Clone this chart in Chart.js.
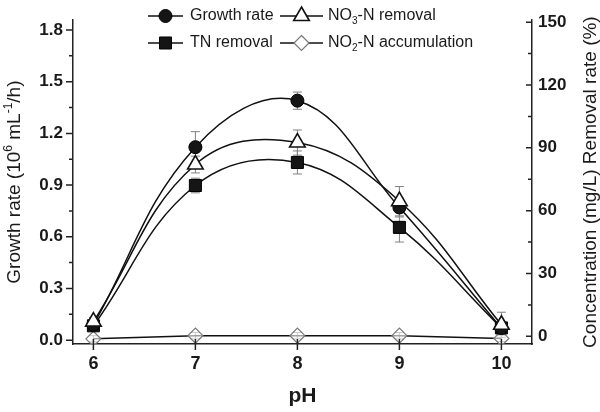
<!DOCTYPE html>
<html>
<head>
<meta charset="utf-8">
<script src="https://cdn.jsdelivr.net/npm/chart.js"></script>
<style>
  html, body { margin: 0; padding: 0; background: #fff; }
  #wrap { width: 600px; height: 412px; position: relative; }
</style>
</head>
<body>
<div id="wrap"><canvas id="chart" width="600" height="412"></canvas></div>
<script>
// ---- datos ----
const phValues = [6, 7, 8, 9, 10];
const growthRate = [0.09, 1.12, 1.39, 0.77, 0.07];
const growthErr = [0.02, 0.09, 0.05, 0.055, 0.02];
const no3Removal = [7, 82, 92.5, 64.5, 5.5];
const no3Err = [2, 4, 6, 7, 6];
const tnRemoval = [5, 72, 83, 52, 4];
const tnErr = [2, 3.5, 5.5, 7, 2];
const no2Accum = [-1.2, 0.3, 0.3, 0.3, -1.0];
const no2Err = [1.5, 1.5, 1.5, 1.5, 1.5];

const xTicks = [6, 7, 8, 9, 10];
const leftTicks = [0, 0.3, 0.6, 0.9, 1.2, 1.5, 1.8];
const rightTicks = [0, 30, 60, 90, 120, 150];

const FONT = "'Liberation Sans', Arial, sans-serif";
const INK = '#1a1a1a';

const toPts = (ys) => phValues.map((x, i) => ({ x: x, y: ys[i] }));

// dibuja texto con sub/superindices
function drawRich(ctx, parts, x, y, size, weight, align) {
    const fontOf = (p) => (weight || 'normal') + ' ' + (p[1] ? Math.round(size * 0.65) : size) + 'px ' + FONT;
    let total = 0;
    parts.forEach(p => { ctx.font = fontOf(p); total += ctx.measureText(p[0]).width; });
    let cx = align === 'center' ? x - total / 2 : x;
    ctx.textAlign = 'left';
    ctx.textBaseline = 'middle';
    parts.forEach(p => {
        ctx.font = fontOf(p);
        let dy = 0;
        if (p[1] === 'sub') dy = size * 0.3;
        if (p[1] === 'sup') dy = -size * 0.35;
        ctx.fillText(p[0], cx, y + dy);
        cx += ctx.measureText(p[0]).width;
    });
}

function drawMarker(ctx, style, x, y, ds) {
    const r = ds.pointRadius;
    ctx.beginPath();
    if (style === 'circle') {
        ctx.arc(x, y, r, 0, Math.PI * 2);
    } else if (style === 'triangle') {
        ctx.moveTo(x, y - r);
        ctx.lineTo(x + r * Math.sin(Math.PI / 3), y + r / 2);
        ctx.lineTo(x - r * Math.sin(Math.PI / 3), y + r / 2);
        ctx.closePath();
    } else if (style === 'rect') {
        const s = r * Math.SQRT1_2;
        ctx.rect(x - s, y - s, 2 * s, 2 * s);
    } else {
        ctx.moveTo(x, y - r); ctx.lineTo(x + r, y); ctx.lineTo(x, y + r); ctx.lineTo(x - r, y);
        ctx.closePath();
    }
    ctx.fillStyle = ds.pointBackgroundColor === 'rgba(255,255,255,0.6)' ? '#fff' : ds.pointBackgroundColor;
    ctx.fill();
    ctx.lineWidth = ds.pointBorderWidth;
    ctx.strokeStyle = ds.pointBorderColor;
    ctx.stroke();
}

// barras de error, debajo de los marcadores
const errorBars = {
    id: 'errorBars',
    beforeDatasetsDraw(chart) {
        const ctx = chart.ctx;
        ctx.save();
        ctx.strokeStyle = '#808080';
        ctx.lineWidth = 1;
        chart.data.datasets.forEach((ds, i) => {
            const meta = chart.getDatasetMeta(i);
            const sc = chart.scales[ds.yAxisID];
            meta.data.forEach((el, j) => {
                const v = ds.data[j].y, e = ds.errors[j];
                const yTop = sc.getPixelForValue(v + e);
                const yBot = sc.getPixelForValue(v - e);
                ctx.beginPath();
                ctx.moveTo(el.x, yTop); ctx.lineTo(el.x, yBot);
                ctx.moveTo(el.x - 4.5, yTop); ctx.lineTo(el.x + 4.5, yTop);
                ctx.moveTo(el.x - 4.5, yBot); ctx.lineTo(el.x + 4.5, yBot);
                ctx.stroke();
            });
        });
        ctx.restore();
    }
};

// marcas de ejes, titulos de ejes y leyenda
const decor = {
    id: 'decor',
    afterDraw(chart) {
        const { ctx, chartArea: a, scales } = chart;
        ctx.save();
        ctx.strokeStyle = '#222';
        ctx.lineWidth = 1.5;
        ctx.beginPath();
        // eje izquierdo: marcas hacia fuera
        leftTicks.forEach((v, i) => {
            const y = scales.y.getPixelForValue(v);
            ctx.moveTo(a.left, y); ctx.lineTo(a.left - 7, y);
            if (i < leftTicks.length - 1) {
                const ym = scales.y.getPixelForValue((v + leftTicks[i + 1]) / 2);
                ctx.moveTo(a.left, ym); ctx.lineTo(a.left - 4, ym);
            }
        });
        // eje derecho: marcas hacia dentro
        rightTicks.forEach((v, i) => {
            const y = scales.y1.getPixelForValue(v);
            ctx.moveTo(a.right, y); ctx.lineTo(a.right - 6, y);
            if (i < rightTicks.length - 1) {
                const ym = scales.y1.getPixelForValue((v + rightTicks[i + 1]) / 2);
                ctx.moveTo(a.right, ym); ctx.lineTo(a.right - 4, ym);
            }
        });
        // eje x: marcas cruzadas
        xTicks.forEach(v => {
            const x = scales.x.getPixelForValue(v);
            ctx.moveTo(x, a.bottom - 5); ctx.lineTo(x, a.bottom + 6);
        });
        ctx.stroke();

        ctx.fillStyle = INK;
        // titulo eje izquierdo
        ctx.save();
        ctx.translate(15, (a.top + a.bottom) / 2);
        ctx.rotate(-Math.PI / 2);
        drawRich(ctx, [['Growth rate (10', ''], ['6', 'sup'], [' mL', ''], ['-1', 'sup'], ['/h)', '']], 0, 0, 19, 'normal', 'center');
        ctx.restore();
        // titulo eje derecho
        ctx.save();
        ctx.translate(591, (a.top + a.bottom) / 2);
        ctx.rotate(-Math.PI / 2);
        drawRich(ctx, [['Concentration (mg/L) Removal rate (%)', '']], 0, 0, 19, 'normal', 'center');
        ctx.restore();

        // leyenda 2x2 (ds = indice del dataset)
        const items = [
            { ds: 1, x0: 148, x1: 183, tx: 190, y: 16, label: [['Growth rate', '']] },
            { ds: 0, x0: 280, x1: 323, tx: 328, y: 16, label: [['NO', ''], ['3', 'sub'], ['-N removal', '']] },
            { ds: 2, x0: 148, x1: 183, tx: 190, y: 43, label: [['TN removal', '']] },
            { ds: 3, x0: 280, x1: 323, tx: 328, y: 43, label: [['NO', ''], ['2', 'sub'], ['-N accumulation', '']] }
        ];
        items.forEach(it => {
            const ds = chart.data.datasets[it.ds];
            ctx.strokeStyle = ds.borderColor;
            ctx.lineWidth = ds.borderWidth;
            ctx.beginPath();
            ctx.moveTo(it.x0, it.y); ctx.lineTo(it.x1, it.y);
            ctx.stroke();
            drawMarker(ctx, ds.pointStyle, (it.x0 + it.x1) / 2, it.y, ds);
            ctx.fillStyle = INK;
            drawRich(ctx, it.label, it.tx, it.y, 16, 'normal', 'left');
        });
        ctx.restore();
    }
};

new Chart(document.getElementById('chart'), {
    type: 'line',
    data: {
        datasets: [
            {
                label: 'NO3-N removal', data: toPts(no3Removal), errors: no3Err, yAxisID: 'y1', order: 0,
                borderColor: '#111', borderWidth: 1.5, tension: 0.4,
                pointStyle: 'triangle', pointRadius: 9, pointBackgroundColor: '#fff',
                pointBorderColor: '#111', pointBorderWidth: 1.6
            },
            {
                label: 'Growth rate', data: toPts(growthRate), errors: growthErr, yAxisID: 'y', order: 1,
                borderColor: '#111', borderWidth: 1.5, tension: 0.4,
                pointStyle: 'circle', pointRadius: 6.5, pointBackgroundColor: '#151515',
                pointBorderColor: '#000', pointBorderWidth: 1
            },
            {
                label: 'TN removal', data: toPts(tnRemoval), errors: tnErr, yAxisID: 'y1', order: 2,
                borderColor: '#111', borderWidth: 1.5, tension: 0.4,
                pointStyle: 'rect', pointRadius: 8.5, pointBackgroundColor: '#151515',
                pointBorderColor: '#000', pointBorderWidth: 1
            },
            {
                label: 'NO2-N accumulation', data: toPts(no2Accum), errors: no2Err, yAxisID: 'y1', order: 3,
                borderColor: '#111', borderWidth: 1.5, tension: 0,
                pointStyle: 'rectRot', pointRadius: 7.5, pointBackgroundColor: 'rgba(255,255,255,0.6)',
                pointBorderColor: '#777', pointBorderWidth: 1.2
            }
        ]
    },
    options: {
        responsive: false,
        animation: false,
        layout: { padding: { top: 8, left: 0, right: 0, bottom: 0 } },
        plugins: { legend: { display: false }, tooltip: { enabled: false } },
        scales: {
            x: {
                type: 'linear', position: 'bottom', min: 5.8, max: 10.3,
                afterBuildTicks: s => { s.ticks = xTicks.map(v => ({ value: v })); },
                afterFit: s => { s.height = 68; },
                grid: { display: false, drawTicks: false },
                border: { display: true, color: '#222', width: 1.5 },
                ticks: { color: INK, padding: 9, autoSkip: false, maxRotation: 0,
                         font: { family: FONT, size: 18, weight: 'bold' } },
                title: { display: true, text: 'pH', color: INK, padding: { top: 0, bottom: 3 },
                         font: { family: FONT, size: 21, weight: 'bold' } }
            },
            y: {
                position: 'left', min: -0.0224, max: 1.857,
                afterBuildTicks: s => { s.ticks = leftTicks.map(v => ({ value: v })); },
                afterFit: s => { s.width = 73; },
                grid: { display: false, drawTicks: false },
                border: { display: true, color: '#222', width: 1.5 },
                ticks: { color: INK, padding: 10, callback: v => v.toFixed(1),
                         font: { family: FONT, size: 17, weight: 'bold' } }
            },
            y1: {
                position: 'right', min: -3.68, max: 150.92,
                afterBuildTicks: s => { s.ticks = rightTicks.map(v => ({ value: v })); },
                afterFit: s => { s.width = 68; },
                grid: { display: false, drawTicks: false },
                border: { display: true, color: '#222', width: 1.5 },
                ticks: { color: INK, padding: 6, callback: v => String(v),
                         font: { family: FONT, size: 17, weight: 'bold' } }
            }
        }
    },
    plugins: [errorBars, decor]
});
</script>
</body>
</html>
